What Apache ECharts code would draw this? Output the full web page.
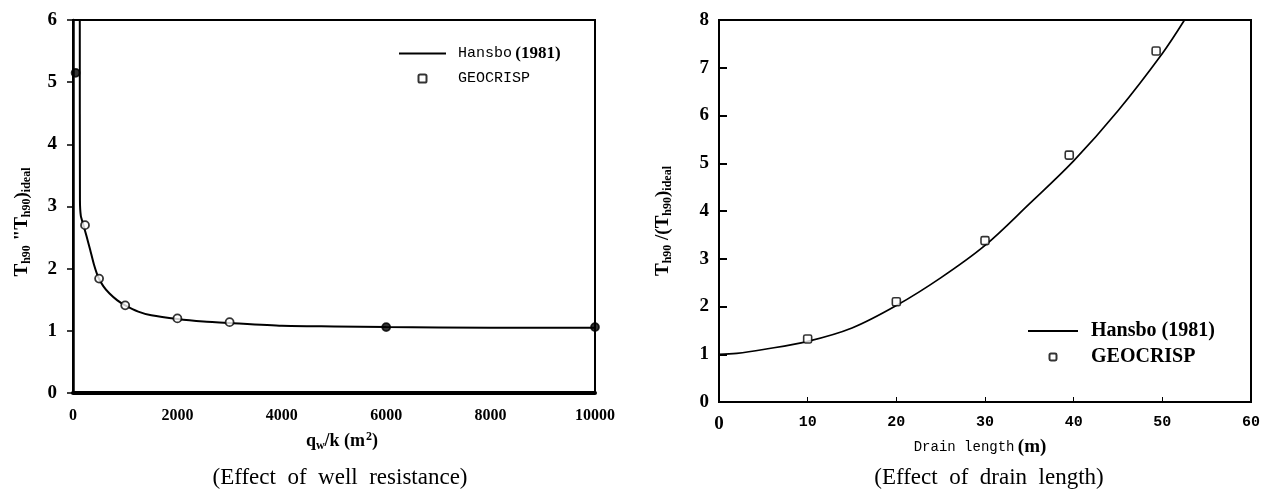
<!DOCTYPE html>
<html>
<head>
<meta charset="utf-8">
<script src="https://cdn.jsdelivr.net/npm/echarts@6/dist/echarts.min.js"></script>
<style>
html,body{margin:0;padding:0;background:#fff;}
#chart{width:1270px;height:496px;}
</style>
</head>
<body>
<div id="chart"></div>
<script>
// ---- Data: Effect of well resistance (left) ----
const wellQ_Hansbo = [130, 133, 150, 200, 260, 330, 400, 480, 580, 700, 850, 1000, 1250, 1500, 2000, 2500, 3000, 4000, 5000, 6000, 8000, 10000];
const wellT_Hansbo = [6.0, 3.1, 2.85, 2.7, 2.52, 2.3, 2.07, 1.87, 1.72, 1.6, 1.49, 1.41, 1.31, 1.25, 1.19, 1.15, 1.125, 1.08, 1.07, 1.06, 1.05, 1.05];
const wellQ_Geo = [50, 230, 500, 1000, 2000, 3000, 6000, 10000];
const wellT_Geo = [5.15, 2.7, 1.84, 1.41, 1.2, 1.14, 1.06, 1.06];
const wellXTicks = [0, 2000, 4000, 6000, 8000, 10000];
const wellYTicks = [0, 1, 2, 3, 4, 5, 6];

// ---- Data: Effect of drain length (right) ----
const drainL_Hansbo = [0, 2, 5, 10, 15, 20, 25, 30, 35, 40, 45, 50, 52.5];
const drainT_Hansbo = [1.0, 1.02, 1.1, 1.27, 1.55, 2.02, 2.6, 3.28, 4.15, 5.05, 6.1, 7.3, 8.0];
const drainL_Geo = [10, 20, 30, 39.5, 49.3];
const drainT_Geo = [1.32, 2.1, 3.38, 5.17, 7.35];
const drainXTicks = [0, 10, 20, 30, 40, 50, 60];
const drainYTicks = [0, 1, 2, 3, 4, 5, 6, 7, 8];

const seriesNames = ['Hansbo (1981)', 'GEOCRISP'];

const zip = (a, b) => a.map((v, i) => [v, b[i]]);
const filledLeft = [0, 6, 7]; // dark (filled) markers in the scan

const chart = echarts.init(document.getElementById('chart'));
const serifB = 'Liberation Serif';
const mono = 'Liberation Mono';
const roundSq = 'path://M2,0H8Q10,0 10,2V8Q10,10 8,10H2Q0,10 0,8V2Q0,0 2,0Z';

const option = {
  animation: false,
  backgroundColor: '#fff',
  grid: [
    {left: 73, right: 675, top: 20, bottom: 103, show: true, borderColor: '#000', borderWidth: 2},
    {left: 719, right: 19, top: 20, bottom: 94, show: true, borderColor: '#000', borderWidth: 2}
  ],
  xAxis: [
    {
      gridIndex: 0, type: 'value', min: wellXTicks[0], max: wellXTicks[wellXTicks.length - 1],
      interval: wellXTicks[1] - wellXTicks[0],
      axisLine: {lineStyle: {color: '#000', width: 2}},
      axisTick: {show: false},
      splitLine: {show: false},
      axisLabel: {color: '#000', fontFamily: serifB, fontWeight: 'bold', fontSize: 16, margin: 15,
        formatter: v => String(v)}
    },
    {
      gridIndex: 0, type: 'value', position: 'top', min: 0, max: 10000,
      axisLine: {lineStyle: {color: '#000', width: 4}},
      axisTick: {show: false}, axisLabel: {show: false}, splitLine: {show: false}
    },
    {
      gridIndex: 1, type: 'value', min: drainXTicks[0], max: drainXTicks[drainXTicks.length - 1],
      interval: drainXTicks[1] - drainXTicks[0],
      axisLine: {lineStyle: {color: '#000', width: 2}},
      axisTick: {show: true, inside: true, length: 5, lineStyle: {color: '#000', width: 1}},
      splitLine: {show: false},
      axisLabel: {
        color: '#000', margin: 13,
        formatter: v => v === 0 ? '{z|0}' : '{n|' + v + '}',
        rich: {
          z: {fontFamily: serifB, fontWeight: 'bold', fontSize: 19},
          n: {fontFamily: mono, fontWeight: 'bold', fontSize: 15}
        }
      }
    }
  ],
  yAxis: [
    {
      gridIndex: 0, type: 'value', min: wellYTicks[0], max: wellYTicks[wellYTicks.length - 1], interval: 1,
      axisLine: {lineStyle: {color: '#000', width: 1.5}},
      axisTick: {show: true, inside: false, length: 6, lineStyle: {color: '#000', width: 1.5}},
      splitLine: {show: false},
      axisLabel: {color: '#000', fontFamily: serifB, fontWeight: 'bold', fontSize: 19, margin: 16}
    },
    {
      gridIndex: 0, type: 'value', position: 'right', min: 0, max: 6,
      axisLine: {lineStyle: {color: '#000', width: 2.5}},
      axisTick: {show: false}, axisLabel: {show: false}, splitLine: {show: false}
    },
    {
      gridIndex: 1, type: 'value', min: drainYTicks[0], max: drainYTicks[drainYTicks.length - 1], interval: 1,
      axisLine: {lineStyle: {color: '#000', width: 1.5}},
      axisTick: {show: true, inside: true, length: 8, lineStyle: {color: '#000', width: 2}},
      splitLine: {show: false},
      axisLabel: {color: '#000', fontFamily: serifB, fontWeight: 'bold', fontSize: 19, margin: 10}
    }
  ],
  legend: [
    {
      left: 393, top: 40, orient: 'vertical', itemWidth: 47, itemHeight: 8, itemGap: 9,
      symbolKeepAspect: true,
      data: [{name: seriesNames[0], itemStyle: {opacity: 0}}, {name: seriesNames[1], icon: roundSq}],
      formatter: n => n === seriesNames[0] ? '{m|Hansbo} {b|(1981)}' : '{m|' + n + '}',
      textStyle: {
        color: '#000', padding: [0, 0, 0, 7],
        rich: {
          m: {fontFamily: mono, fontSize: 15, color: '#000'},
          b: {fontFamily: serifB, fontWeight: 'bold', fontSize: 17, color: '#000'}
        }
      }
    },
    {
      left: 1022, top: 316, orient: 'vertical', itemWidth: 50, itemHeight: 7, itemGap: 6,
      symbolKeepAspect: true,
      data: [{name: seriesNames[0] + ' ', itemStyle: {opacity: 0}}, {name: seriesNames[1] + ' ', icon: roundSq}],
      formatter: n => '{s|' + n.trim() + '}',
      textStyle: {
        color: '#000', padding: [0, 0, 0, 8],
        rich: {s: {fontFamily: serifB, fontWeight: 'bold', fontSize: 20, color: '#000'}}
      }
    }
  ],
  series: [
    {
      name: seriesNames[0], type: 'line', xAxisIndex: 0, yAxisIndex: 0,
      data: zip(wellQ_Hansbo, wellT_Hansbo), showSymbol: false, symbol: 'none',
      smooth: 0.2,
      lineStyle: {color: '#000', width: 2}, itemStyle: {color: '#000'}, z: 3
    },
    {
      name: seriesNames[1], type: 'scatter', xAxisIndex: 0, yAxisIndex: 0,
      data: zip(wellQ_Geo, wellT_Geo).map((p, i) => filledLeft.includes(i)
        ? {value: p, itemStyle: {color: '#000', borderColor: '#000'}} : {value: p}),
      symbol: 'circle', symbolSize: 8,
      itemStyle: {color: '#fff', borderColor: '#000', borderWidth: 1.8}, z: 4
    },
    {
      name: seriesNames[0] + ' ', type: 'line', xAxisIndex: 2, yAxisIndex: 2,
      data: zip(drainL_Hansbo, drainT_Hansbo), showSymbol: false, symbol: 'none',
      smooth: 0.35,
      lineStyle: {color: '#000', width: 1.7}, itemStyle: {color: '#000'}, z: 3
    },
    {
      name: seriesNames[1] + ' ', type: 'scatter', xAxisIndex: 2, yAxisIndex: 2,
      data: zip(drainL_Geo, drainT_Geo),
      symbol: roundSq, symbolSize: 8,
      itemStyle: {color: '#fff', borderColor: '#000', borderWidth: 1.6}, z: 4
    }
  ],
  graphic: [
    {
      type: 'text', x: 22, y: 222, rotation: Math.PI / 2,
      style: {
        text: '{t|T}{s|h90}{t| "T}{s|h90}{t|)}{s|ideal}',
        align: 'center', verticalAlign: 'middle', fill: '#000',
        rich: {
          t: {fontFamily: serifB, fontWeight: 'bold', fontSize: 19, lineHeight: 20, fill: '#000'},
          s: {fontFamily: serifB, fontWeight: 'bold', fontSize: 12, lineHeight: 12, padding: [9, 0, 0, 0], fill: '#000'}
        }
      }
    },
    {
      type: 'text', x: 663, y: 221, rotation: Math.PI / 2,
      style: {
        text: '{t|T}{s|h90}{t| /(T}{s|h90}{t|)}{s|ideal}',
        align: 'center', verticalAlign: 'middle', fill: '#000',
        rich: {
          t: {fontFamily: serifB, fontWeight: 'bold', fontSize: 19, lineHeight: 20, fill: '#000'},
          s: {fontFamily: serifB, fontWeight: 'bold', fontSize: 12, lineHeight: 12, padding: [9, 0, 0, 0], fill: '#000'}
        }
      }
    },
    {
      type: 'text', x: 342, y: 441,
      style: {
        text: '{t|q}{s|w}{t|/k (m}{p|2}{t|)}',
        align: 'center', verticalAlign: 'middle', fill: '#000',
        rich: {
          t: {fontFamily: serifB, fontWeight: 'bold', fontSize: 18, lineHeight: 20, fill: '#000'},
          s: {fontFamily: serifB, fontWeight: 'bold', fontSize: 12, lineHeight: 12, padding: [9, 0, 0, 0], fill: '#000'},
          p: {fontFamily: serifB, fontWeight: 'bold', fontSize: 12, lineHeight: 12, padding: [0, 0, 8, 1], fill: '#000'}
        }
      }
    },
    {
      type: 'text', x: 980, y: 447,
      style: {
        text: '{m|Drain length} {b|(m)}',
        align: 'center', verticalAlign: 'middle', fill: '#000',
        rich: {
          m: {fontFamily: mono, fontSize: 14, fill: '#000'},
          b: {fontFamily: serifB, fontWeight: 'bold', fontSize: 19, fill: '#000'}
        }
      }
    },
    {
      type: 'text', x: 340, y: 478,
      style: {
        text: '(Effect  of  well  resistance)', align: 'center', verticalAlign: 'middle',
        fontFamily: serifB, fontSize: 23, fill: '#000'
      }
    },
    {
      type: 'text', x: 989, y: 478,
      style: {
        text: '(Effect  of  drain  length)', align: 'center', verticalAlign: 'middle',
        fontFamily: serifB, fontSize: 23, fill: '#000'
      }
    }
  ]
};
chart.setOption(option);
</script>
</body>
</html>
